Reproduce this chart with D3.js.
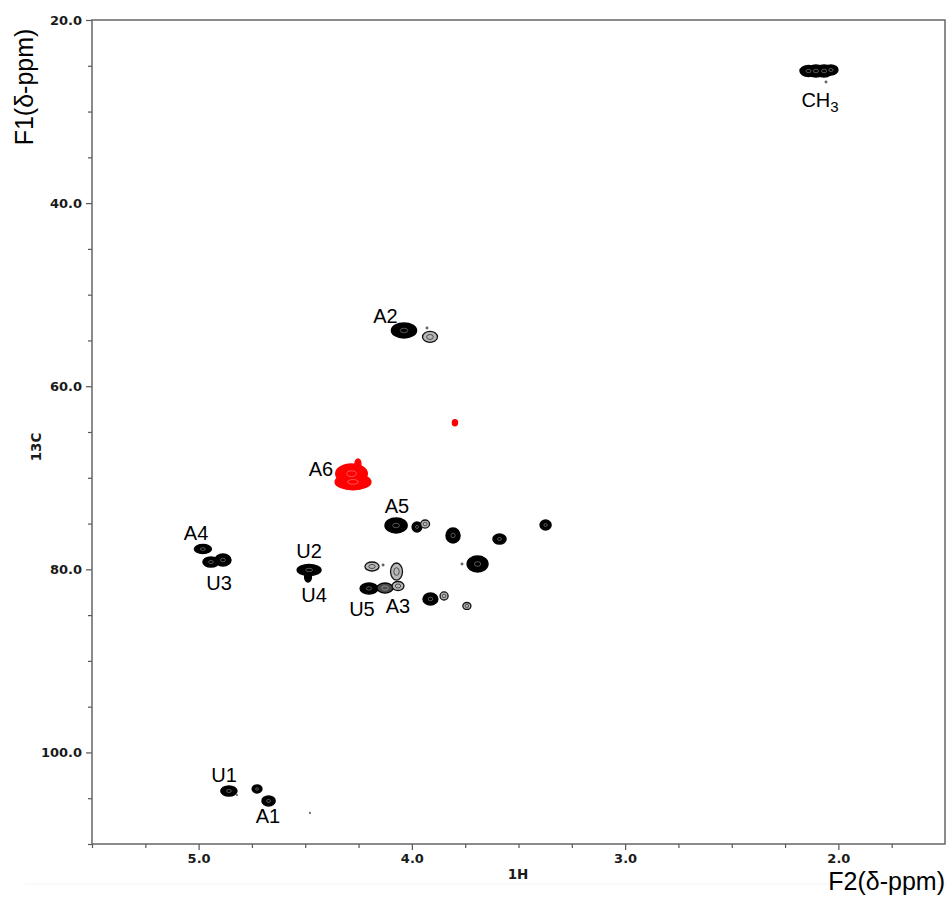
<!DOCTYPE html>
<html>
<head>
<meta charset="utf-8">
<script src="https://cdn.jsdelivr.net/npm/d3@7"></script>
<style>
body { margin: 0; background: #fff; }
.tick text { font-family: "DejaVu Sans", Verdana, sans-serif; font-weight: bold; font-size: 13px; fill: #1a1a1a; }
.tick line { stroke: #555; stroke-width: 1.2; }
.label { font-family: "Liberation Sans", Arial, sans-serif; font-size: 20px; fill: #000; }
.title { font-family: "Liberation Sans", Arial, sans-serif; font-size: 25px; fill: #000; }
.nucleus { font-family: "DejaVu Sans", Verdana, sans-serif; font-weight: bold; font-size: 13.5px; fill: #1a1a1a; }
</style>
</head>
<body>
<script>
const width = 946, height = 900;

// axes
const xTicks = [5.0, 4.0, 3.0, 2.0];
const yTicks = [20, 40, 60, 80, 100];

// black cross peaks (1H ppm, 13C ppm, half widths, contour level)
const peakH = [2.140, 2.105, 2.067, 2.035, 2.058, 4.037, 3.915, 3.929, 4.074, 3.976, 3.938, 3.807, 3.589, 3.373, 3.692, 3.765, 4.187, 4.135, 4.072, 4.201, 4.126, 4.065, 3.913, 3.849, 3.742, 4.980, 4.942, 4.886, 4.482, 4.487, 4.858, 4.726, 4.672, 4.820, 4.478];
const peakC = [25.57, 25.57, 25.57, 25.46, 26.77, 53.91, 54.62, 53.64, 75.21, 75.37, 75.05, 76.30, 76.69, 75.16, 79.42, 79.42, 79.69, 79.52, 80.24, 82.09, 82.04, 81.82, 83.24, 82.91, 84.00, 77.78, 79.20, 78.98, 80.07, 80.84, 104.21, 103.99, 105.30, 104.65, 106.61];
const peakRH = [.040, .040, .040, .033, .007, .059, .035, .007, .052, .023, .021, .033, .031, .026, .049, .007, .033, .007, .028, .042, .038, .028, .035, .019, .019, .040, .038, .038, .056, .016, .038, .023, .031, .005, .005];
const peakRC = [.60, .65, .65, .55, .16, .82, .60, .16, .82, .55, .44, .82, .55, .55, .87, .16, .49, .16, .93, .60, .55, .49, .66, .44, .38, .49, .55, .66, .60, .55, .55, .44, .55, .12, .12];
const peakLevel = [3, 3, 3, 3, 0, 3, 1, 0, 3, 3, 1, 3, 3, 3, 3, 0, 1, 0, 1, 3, 2, 1, 3, 1, 1, 3, 3, 3, 3, 3, 3, 3, 3, 0, 0];

// red (negative phase) peaks
const redH = [4.276, 4.283, 4.253, 3.798];
const redC = [70.45, 69.55, 68.49, 64.0];
const redRH = [.084, .074, .014, .012];
const redRC = [.85, 1.05, .55, .33];

// assignments
const labelText = ['CH3', 'A2', 'A6', 'A5', 'A4', 'U3', 'U2', 'U4', 'U5', 'A3', 'U1', 'A1'];
const labelH = [2.086, 4.124, 4.426, 4.070, 5.012, 4.904, 4.482, 4.459, 4.234, 4.065, 4.881, 4.675];
const labelC = [28.74, 52.27, 69.04, 73.08, 76.03, 81.49, 78.0, 82.8, 84.33, 84.0, 102.46, 106.88];

const x = d3.scaleLinear().domain([5.5, 1.5]).range([92, 945]);
const y = d3.scaleLinear().domain([20, 110]).range([20, 844]);

const svg = d3.select('body').append('svg')
    .attr('width', width).attr('height', height);

svg.append('line')
    .attr('x1', 25).attr('x2', width).attr('y1', 884).attr('y2', 884)
    .attr('stroke', '#f2f2f2');

// minor ticks every 0.25 ppm / 5 ppm
const xMinor = d3.range(5.5, 1.6, -0.25).filter(v => !xTicks.some(t => Math.abs(t - v) < 1e-6));
const yMinor = d3.range(20, 111, 5).filter(v => !yTicks.includes(v));

svg.append('g').attr('transform', 'translate(0,844)')
    .call(d3.axisBottom(x).tickValues(xMinor).tickFormat('').tickSize(4))
    .call(g => g.select('.domain').remove());
svg.append('g').attr('transform', 'translate(0,844)')
    .call(d3.axisBottom(x).tickValues(xTicks).tickFormat(d3.format('.1f')).tickSize(6).tickPadding(4))
    .call(g => g.select('.domain').remove());
svg.append('g').attr('transform', 'translate(92,0)')
    .call(d3.axisLeft(y).tickValues(yMinor).tickFormat('').tickSize(4))
    .call(g => g.select('.domain').remove());
svg.append('g').attr('transform', 'translate(92,0)')
    .call(d3.axisLeft(y).tickValues(yTicks).tickFormat(d3.format('.1f')).tickSize(6).tickPadding(4))
    .call(g => g.select('.domain').remove());

svg.append('rect')
    .attr('x', x(5.5)).attr('y', y(20))
    .attr('width', x(1.5) - x(5.5)).attr('height', y(110) - y(20))
    .attr('fill', 'none').attr('stroke', '#666').attr('stroke-width', 1.5);

// peaks: outer contour pass first, inner contour pass on top
function drawPeak(g, pass, h, c, rh, rc, level, color) {
    const cx = x(h), cy = y(c);
    const rx = Math.abs(x(h + rh) - cx), ry = Math.abs(y(c + rc) - cy);
    const ring = (s) => g.append('ellipse').attr('cx', cx).attr('cy', cy)
        .attr('rx', rx * s).attr('ry', ry * s);
    if (pass === 0) {
        if (level === 0) ring(1).attr('fill', '#666');
        else if (level === 1) ring(1).attr('fill', '#b8b8b8').attr('stroke', '#111').attr('stroke-width', 1.3);
        else if (level === 2) ring(1).attr('fill', '#4a4a4a').attr('stroke', '#000').attr('stroke-width', 1.3);
        else ring(1).attr('fill', color).attr('stroke', color).attr('stroke-width', 1.4);
    } else {
        if (level === 1) ring(0.45).attr('fill', 'none').attr('stroke', '#333').attr('stroke-width', 0.8);
        else if (level === 2) ring(0.4).attr('fill', 'none').attr('stroke', '#bbb').attr('stroke-width', 0.6);
        else if (level === 3 && rx > 4) {
            ring(0.3).attr('fill', 'none').attr('stroke', '#fff').attr('stroke-width', 0.6).attr('opacity', 0.55);
        }
    }
}

const peaks = svg.append('g');
[0, 1].forEach(pass => {
    peakH.forEach((h, i) => drawPeak(peaks, pass, h, peakC[i], peakRH[i], peakRC[i], peakLevel[i], '#000'));
    redH.forEach((h, i) => drawPeak(peaks, pass, h, redC[i], redRH[i], redRC[i], 3, '#f00'));
});

// labels
labelText.forEach((t, i) => {
    const txt = svg.append('text').attr('class', 'label')
        .attr('x', x(labelH[i])).attr('y', y(labelC[i]))
        .attr('dy', '0.36em').attr('text-anchor', 'middle');
    const m = t.match(/^([A-Z]+)(\d)$/);
    if (t === 'CH3') {
        txt.append('tspan').text(m[1]);
        txt.append('tspan').attr('dy', 5).attr('font-size', 15).text(m[2]);
    } else {
        txt.text(t);
    }
});

// axis titles
svg.append('text').attr('class', 'title')
    .attr('transform', 'translate(33,87) rotate(-90)')
    .attr('text-anchor', 'middle').text('F1(δ-ppm)');
svg.append('text').attr('class', 'title')
    .attr('x', 945).attr('y', 890).attr('text-anchor', 'end').text('F2(δ-ppm)');
svg.append('text').attr('class', 'nucleus')
    .attr('x', 518).attr('y', 879).attr('text-anchor', 'middle').text('1H');
svg.append('text').attr('class', 'nucleus')
    .attr('transform', 'translate(41,447) rotate(-90)')
    .attr('text-anchor', 'middle').text('13C');
</script>
</body>
</html>
